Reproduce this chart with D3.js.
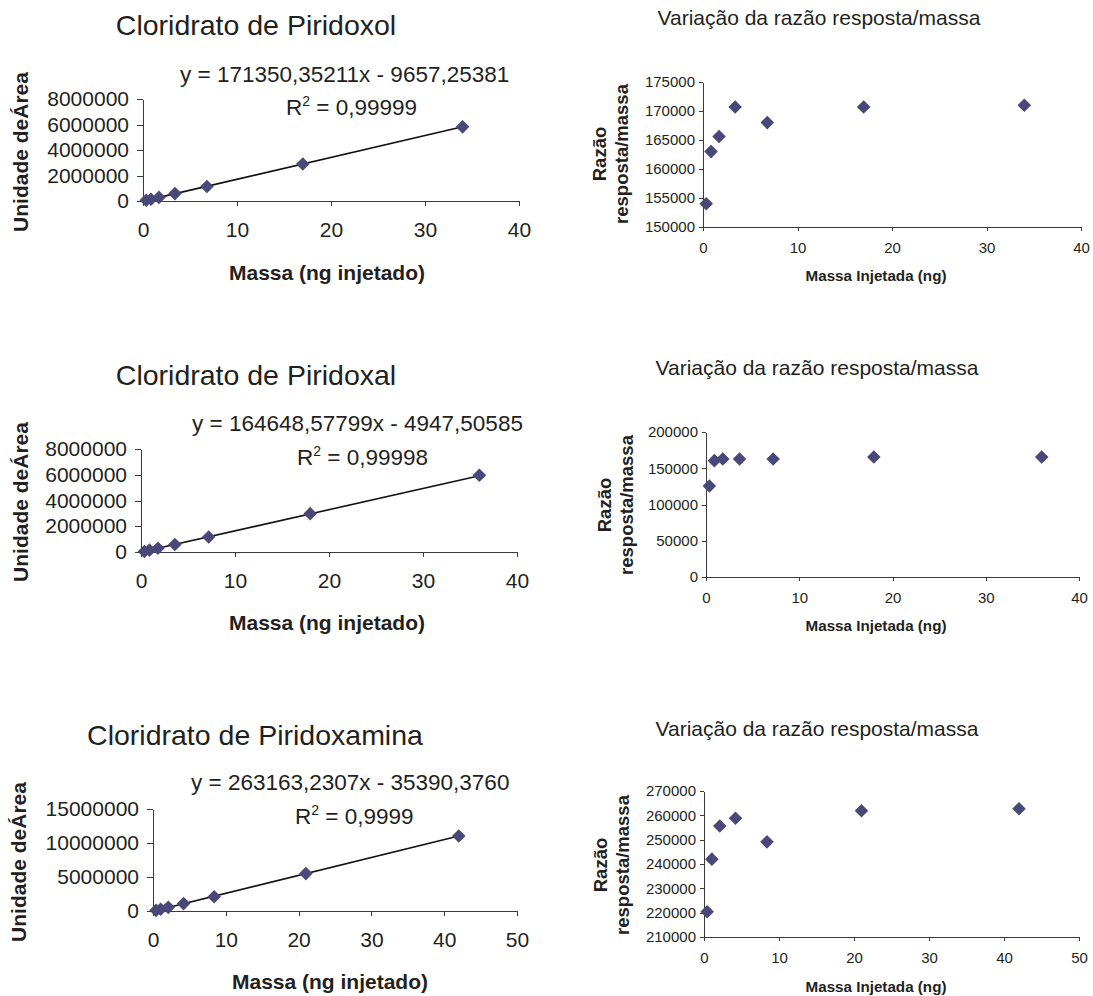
<!DOCTYPE html>
<html>
<head>
<meta charset="utf-8">
<script src="https://cdn.jsdelivr.net/npm/d3@7"></script>
<style>
  body { margin: 0; background: #fff; }
  svg { display: block; font-family: "Liberation Sans", Arial, sans-serif; }
  .axis path, .axis line { stroke: #3a3a3a; shape-rendering: crispEdges; }
  .axis text { fill: #231f20; }
</style>
</head>
<body>
<div id="chart"></div>
<script>
// calibration curves (left) and response/mass ratio (right)
const titles = ["Cloridrato de Piridoxol", "Cloridrato de Piridoxal", "Cloridrato de Piridoxamina"];
const eqLabels = ["y = 171350,35211x - 9657,25381", "y = 164648,57799x - 4947,50585", "y = 263163,2307x - 35390,3760"];
const r2Labels = ["0,99999", "0,99998", "0,9999"];
const trendSlope = [171350.35211, 164648.57799, 263163.2307];
const trendIntercept = [-9657.25381, -4947.50585, -35390.3760];

const massPiridoxol = [0.34, 0.85, 1.7, 3.4, 6.8, 17, 34];
const areaPiridoxol = [52000, 139000, 282000, 580000, 1142000, 2902000, 5814000];
const ratioPiridoxol = [154000, 163000, 165600, 170700, 168000, 170700, 171000];

const massPiridoxal = [0.36, 0.9, 1.8, 3.6, 7.2, 18, 36];
const areaPiridoxal = [45000, 144000, 293000, 586000, 1172000, 2979000, 5958000];
const ratioPiridoxal = [125500, 160500, 162800, 162800, 162800, 165500, 165500];

const massPiridoxamina = [0.42, 1.05, 2.1, 4.2, 8.4, 21, 42];
const areaPiridoxamina = [92600, 254000, 537000, 1087000, 2092000, 5500000, 11033000];
const ratioPiridoxamina = [220400, 242000, 255600, 258800, 249100, 261900, 262700];

const xTicksLeft = [[0, 10, 20, 30, 40], [0, 10, 20, 30, 40], [0, 10, 20, 30, 40, 50]];
const yTicksLeft = [[0, 2000000, 4000000, 6000000, 8000000], [0, 2000000, 4000000, 6000000, 8000000], [0, 5000000, 10000000, 15000000]];
const xTicksRight = [[0, 10, 20, 30, 40], [0, 10, 20, 30, 40], [0, 10, 20, 30, 40, 50]];
const yTicksRight = [
    [150000, 155000, 160000, 165000, 170000, 175000],
    [0, 50000, 100000, 150000, 200000],
    [210000, 220000, 230000, 240000, 250000, 260000, 270000]
];

const masses = [massPiridoxol, massPiridoxal, massPiridoxamina];
const areas = [areaPiridoxol, areaPiridoxal, areaPiridoxamina];
const ratios = [ratioPiridoxol, ratioPiridoxal, ratioPiridoxamina];

const W = 1093, H = 996;
const markerColor = "#4a4878";
const textColor = "#231f20";

const svg = d3.select("#chart").append("svg").attr("width", W).attr("height", H);

// pixel layout of each panel
const leftLayout = [
    { x0: 143, x1: 519, yTop: 99, yBot: 201, titleX: 256, titleY: 35, eqX: 180, eqY: 82, r2X: 286, r2Y: 115, xtX: 327, xtY: 280, ytX: 21, ytY: 152 },
    { x0: 141, x1: 517, yTop: 449, yBot: 552, titleX: 256, titleY: 385, eqX: 192, eqY: 431, r2X: 297, r2Y: 465, xtX: 327, xtY: 630, ytX: 21, ytY: 502 },
    { x0: 153, x1: 517, yTop: 809, yBot: 911, titleX: 255, titleY: 745, eqX: 191, eqY: 790, r2X: 295, r2Y: 824, xtX: 330, xtY: 989, ytX: 19, ytY: 862 }
];
const rightLayout = [
    { x0: 703, x1: 1081, yTop: 82, yBot: 227, titleX: 819, titleY: 25, xtX: 876, xtY: 281, yt1: 600, yt2: 622, ytY: 154 },
    { x0: 706, x1: 1079, yTop: 432, yBot: 577, titleX: 817, titleY: 375, xtX: 876, xtY: 631, yt1: 605, yt2: 627, ytY: 505 },
    { x0: 704, x1: 1079, yTop: 791, yBot: 937, titleX: 817, titleY: 736, xtX: 876, xtY: 992, yt1: 601, yt2: 623, ytY: 865 }
];

const diamond = d3.symbol().type(d3.symbolSquare).size(92);

function drawMarkers(g, xs, ys, x, y) {
    g.selectAll("path.pt")
        .data(xs.map((v, i) => [v, ys[i]]))
        .join("path")
        .attr("class", "pt")
        .attr("d", diamond)
        .attr("transform", d => `translate(${x(d[0])},${y(d[1])}) rotate(45)`)
        .attr("fill", markerColor);
}

// left: calibration curves
leftLayout.forEach((L, i) => {
    const xt = xTicksLeft[i], yt = yTicksLeft[i];
    const x = d3.scaleLinear().domain([xt[0], xt[xt.length - 1]]).range([L.x0, L.x1]);
    const y = d3.scaleLinear().domain([yt[0], yt[yt.length - 1]]).range([L.yBot, L.yTop]);
    const g = svg.append("g");

    g.append("g").attr("class", "axis").attr("transform", `translate(0,${L.yBot})`)
        .call(d3.axisBottom(x).tickValues(xt).tickFormat(d3.format("d")).tickSizeInner(5).tickSizeOuter(0).tickPadding(16))
        .call(a => a.selectAll("text").attr("font-size", 21).attr("font-family", null));
    g.append("g").attr("class", "axis").attr("transform", `translate(${L.x0},0)`)
        .call(d3.axisLeft(y).tickValues(yt).tickFormat(d3.format("d")).tickSizeInner(6).tickSizeOuter(0).tickPadding(8))
        .call(a => a.selectAll("text").attr("font-size", 21).attr("font-family", null));

    // trendline over the data range
    const xs = masses[i];
    const xa = d3.min(xs), xb = d3.max(xs);
    g.append("line")
        .attr("x1", x(xa)).attr("y1", y(trendSlope[i] * xa + trendIntercept[i]))
        .attr("x2", x(xb)).attr("y2", y(trendSlope[i] * xb + trendIntercept[i]))
        .attr("stroke", "#111").attr("stroke-width", 1.6);

    drawMarkers(g, xs, areas[i], x, y);

    g.append("text").attr("x", L.titleX).attr("y", L.titleY).attr("text-anchor", "middle")
        .attr("font-size", 28.5).attr("fill", textColor).text(titles[i]);
    g.append("text").attr("x", L.eqX).attr("y", L.eqY)
        .attr("font-size", 22.5).attr("fill", textColor).text(eqLabels[i]);
    const r2 = g.append("text").attr("x", L.r2X).attr("y", L.r2Y).attr("font-size", 22.5).attr("fill", textColor);
    r2.append("tspan").text("R");
    r2.append("tspan").attr("font-size", 14).attr("dy", -9).text("2");
    r2.append("tspan").attr("dy", 9).text(" = " + r2Labels[i]);

    g.append("text").attr("x", L.xtX).attr("y", L.xtY).attr("text-anchor", "middle")
        .attr("font-size", 21).attr("font-weight", "bold").attr("fill", textColor).text("Massa (ng injetado)");
    g.append("text").attr("transform", `translate(${L.ytX},${L.ytY}) rotate(-90)`).attr("dy", "0.35em")
        .attr("text-anchor", "middle").attr("font-size", 21).attr("font-weight", "bold").attr("fill", textColor)
        .text("Unidade deÁrea");
});

// right: response / mass ratio
rightLayout.forEach((R, i) => {
    const xt = xTicksRight[i], yt = yTicksRight[i];
    const x = d3.scaleLinear().domain([xt[0], xt[xt.length - 1]]).range([R.x0, R.x1]);
    const y = d3.scaleLinear().domain([yt[0], yt[yt.length - 1]]).range([R.yBot, R.yTop]);
    const g = svg.append("g");

    g.append("g").attr("class", "axis").attr("transform", `translate(0,${R.yBot})`)
        .call(d3.axisBottom(x).tickValues(xt).tickFormat(d3.format("d")).tickSizeInner(4).tickSizeOuter(0).tickPadding(11))
        .call(a => a.selectAll("text").attr("font-size", 15).attr("font-family", null));
    g.append("g").attr("class", "axis").attr("transform", `translate(${R.x0},0)`)
        .call(d3.axisLeft(y).tickValues(yt).tickFormat(d3.format("d")).tickSizeInner(4).tickSizeOuter(0).tickPadding(4))
        .call(a => a.selectAll("text").attr("font-size", 15).attr("font-family", null));

    drawMarkers(g, masses[i], ratios[i], x, y);

    g.append("text").attr("x", R.titleX).attr("y", R.titleY).attr("text-anchor", "middle")
        .attr("font-size", 21).attr("fill", textColor).text("Variação da razão resposta/massa");
    g.append("text").attr("x", R.xtX).attr("y", R.xtY).attr("text-anchor", "middle")
        .attr("font-size", 15.2).attr("font-weight", "bold").attr("fill", textColor).text("Massa Injetada (ng)");
    [["Razão", R.yt1], ["resposta/massa", R.yt2]].forEach(([t, xx]) => {
        g.append("text").attr("transform", `translate(${xx},${R.ytY}) rotate(-90)`).attr("dy", "0.35em")
            .attr("text-anchor", "middle").attr("font-size", 18.5).attr("font-weight", "bold").attr("fill", textColor)
            .text(t);
    });
});
</script>
</body>
</html>
